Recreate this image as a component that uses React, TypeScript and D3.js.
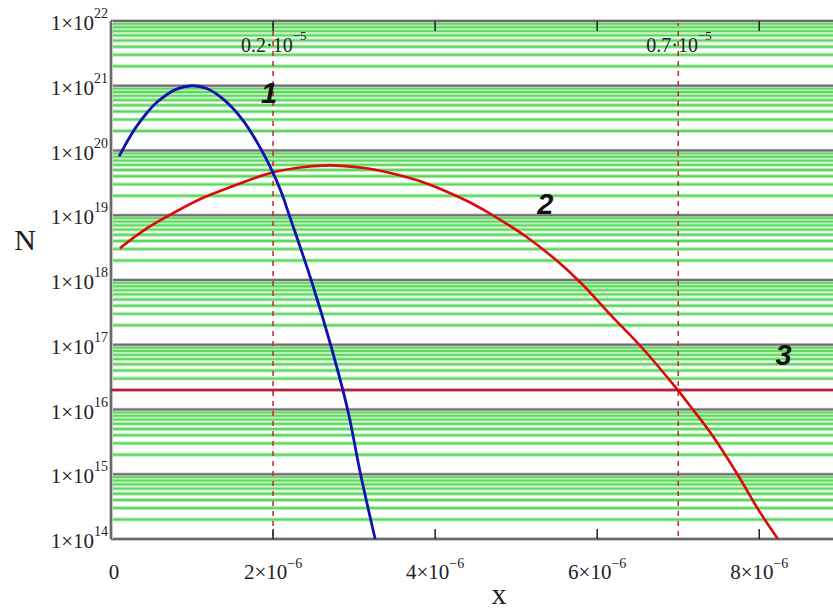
import React from "react";
import * as d3 from "d3";

// ---- data (x in metres, N values) ----
const curve1X = [0.10e-6, 0.20e-6, 0.32e-6, 0.45e-6, 0.57e-6, 0.80e-6, 1.00e-6, 1.19e-6, 1.40e-6, 1.64e-6, 1.86e-6, 1.99e-6, 2.10e-6, 2.20e-6, 2.47e-6, 2.71e-6, 2.92e-6, 3.08e-6, 3.26e-6];
const curve1N = [8.1e19, 1.38e20, 2.4e20, 3.9e20, 5.6e20, 8.8e20, 1.0e21, 9.0e20, 6.0e20, 2.8e20, 1.0e20, 4.8e19, 2.3e19, 1.0e19, 1.0e18, 1.0e17, 1.0e16, 1.0e15, 1.0e14];

const curve2X = [0.11e-6, 0.40e-6, 0.72e-6, 1.11e-6, 1.50e-6, 1.97e-6, 2.36e-6, 2.70e-6, 3.10e-6, 3.51e-6, 3.80e-6, 4.13e-6, 4.42e-6, 4.71e-6, 5.12e-6, 5.50e-6, 5.80e-6, 6.20e-6, 6.52e-6, 6.98e-6, 7.18e-6, 7.42e-6, 7.73e-6, 8.00e-6, 8.23e-6];
const curve2N = [3.1e18, 5.8e18, 1.0e19, 1.8e19, 2.8e19, 4.5e19, 5.5e19, 5.9e19, 5.4e19, 4.3e19, 3.4e19, 2.35e19, 1.6e19, 1.0e19, 4.7e18, 2.0e18, 9.0e17, 2.6e17, 1.0e17, 2.1e16, 1.0e16, 4.0e15, 1.0e15, 2.7e14, 1.0e14];

const curve3X = [0, 8.91e-6];
const curve3N = [2.0e16, 2.0e16];

const xTicks = [0, 2e-6, 4e-6, 6e-6, 8e-6];
const xTickLabels = ["0", "2×10", "4×10", "6×10", "8×10"];
const xTickExp = ["", "−6", "−6", "−6", "−6"];
const yDecades = [14, 15, 16, 17, 18, 19, 20, 21, 22];
const markerX = [2e-6, 7e-6];
const markerLabels = ["0.2·10", "0.7·10"];
const markerExp = ["−5", "−5"];
const curveLabels = ["1", "2", "3"];
const curveLabelX = [1.95e-6, 5.36e-6, 8.3e-6];
const curveLabelN = [5.4e20, 1.05e19, 4.9e16];

const W = 833;
const H = 610;
const L = 111, R = 833, T = 21, B = 539;

export default function App() {
  const x = d3.scaleLinear().domain([0, 8.91e-6]).range([L, R]);
  const y = d3.scaleLog().domain([1e14, 1e22]).range([B, T]);

  const line = d3
    .line<[number, number]>()
    .x((d) => x(d[0]))
    .y((d) => y(d[1]))
    .curve(d3.curveCatmullRom.alpha(0.5));

  const minor: number[] = [];
  for (let d = 14; d < 22; d++) {
    for (let k = 2; k <= 9; k++) minor.push(k * Math.pow(10, d));
  }
  const major = yDecades.slice(1, -1).map((d) => Math.pow(10, d));

  const serif = "'Liberation Serif', 'DejaVu Serif', serif";
  const sans = "'Liberation Sans', Arial, sans-serif";

  const path1 = line(curve1X.map((v, i) => [v, curve1N[i]] as [number, number]));
  const path2 = line(curve2X.map((v, i) => [v, curve2N[i]] as [number, number]));
  const path3 = line(curve3X.map((v, i) => [v, curve3N[i]] as [number, number]));

  return (
    <svg
      width={W}
      height={H}
      style={{ position: "absolute", left: 0, top: 0, background: "#fff" }}
    >
      <defs>
        <clipPath id="plot">
          <rect x={L} y={T - 1} width={R - L} height={B - T + 2} />
        </clipPath>
      </defs>
      <rect x={0} y={0} width={W} height={H} fill="#fff" />

      {/* minor green grid */}
      {minor.map((v, i) => (
        <g key={"m" + i}>
          <line x1={L} x2={R} y1={y(v)} y2={y(v)} stroke="#b4efb4" strokeWidth={4} />
          <line x1={L} x2={R} y1={y(v)} y2={y(v)} stroke="#5fd75f" strokeWidth={1.8} />
        </g>
      ))}
      {/* major gray grid */}
      {major.map((v, i) => (
        <g key={"M" + i}>
          <line x1={L} x2={R} y1={y(v)} y2={y(v)} stroke="#c8c8c8" strokeWidth={3.5} />
          <line x1={L} x2={R} y1={y(v)} y2={y(v)} stroke="#707070" strokeWidth={1.8} />
        </g>
      ))}

      {/* dashed markers */}
      {markerX.map((v, i) => (
        <line
          key={"dm" + i}
          x1={x(v)}
          x2={x(v)}
          y1={T}
          y2={B}
          stroke="#c0282a"
          strokeWidth={1.5}
          strokeDasharray="5,5"
        />
      ))}

      {/* frame */}
      <line x1={L} x2={R} y1={T} y2={T} stroke="#c8c8c8" strokeWidth={4} />
      <line x1={L} x2={R} y1={T} y2={T} stroke="#6a6a6a" strokeWidth={2} />
      <line x1={L} x2={R} y1={B} y2={B} stroke="#c8c8c8" strokeWidth={4} />
      <line x1={L} x2={R} y1={B} y2={B} stroke="#6a6a6a" strokeWidth={2} />
      <line x1={L} x2={L} y1={T} y2={B} stroke="#c8c8c8" strokeWidth={4} />
      <line x1={L} x2={L} y1={T} y2={B} stroke="#6a6a6a" strokeWidth={2} />

      {/* ticks */}
      {xTicks.slice(1).map((v, i) => (
        <g key={"t" + i}>
          <line x1={x(v)} x2={x(v)} y1={B} y2={B - 10} stroke="#222" strokeWidth={1.5} />
          <line x1={x(v)} x2={x(v)} y1={T} y2={T + 10} stroke="#222" strokeWidth={1.5} />
        </g>
      ))}

      {/* curves */}
      <g clipPath="url(#plot)" fill="none" strokeLinejoin="round">
        <path d={path3 || ""} stroke="#d0104e" strokeWidth={2.6} />
        <path d={path2 || ""} stroke="#dd0a0a" strokeWidth={2.6} />
        <path d={path1 || ""} stroke="#1212b0" strokeWidth={2.8} />
      </g>

      {/* marker labels */}
      {markerX.map((v, i) => (
        <text
          key={"ml" + i}
          x={x(v) - 32}
          y={52}
          fontFamily={serif}
          fontSize={20}
          fill="#222"
        >
          {markerLabels[i]}
          <tspan dy={-12} fontSize={13}>
            {markerExp[i]}
          </tspan>
        </text>
      ))}

      {/* curve labels */}
      {curveLabels.map((s, i) => (
        <text
          key={"cl" + i}
          x={x(curveLabelX[i])}
          y={y(curveLabelN[i])}
          fontFamily={sans}
          fontStyle="italic"
          fontWeight="bold"
          fontSize={29}
          textAnchor="middle"
          fill="#111"
        >
          {s}
        </text>
      ))}

      {/* y tick labels */}
      {yDecades.map((d, i) => (
        <text
          key={"yl" + i}
          x={108}
          y={y(Math.pow(10, d)) + 9}
          fontFamily={serif}
          fontSize={21}
          textAnchor="end"
          fill="#222"
        >
          1×10
          <tspan dy={-12} fontSize={14}>
            {String(d)}
          </tspan>
        </text>
      ))}

      {/* x tick labels */}
      {xTicks.map((v, i) => (
        <text
          key={"xl" + i}
          x={x(v) + (i === 0 ? 3 : 0)}
          y={579}
          fontFamily={serif}
          fontSize={21}
          textAnchor="middle"
          fill="#222"
        >
          {xTickLabels[i]}
          {xTickExp[i] ? (
            <tspan dy={-11} fontSize={14}>
              {xTickExp[i]}
            </tspan>
          ) : null}
        </text>
      ))}

      {/* axis titles */}
      <text x={25} y={250} fontFamily={serif} fontSize={30} textAnchor="middle" fill="#222">
        N
      </text>
      <text x={499} y={604} fontFamily={serif} fontSize={30} textAnchor="middle" fill="#222">
        x
      </text>
    </svg>
  );
}
